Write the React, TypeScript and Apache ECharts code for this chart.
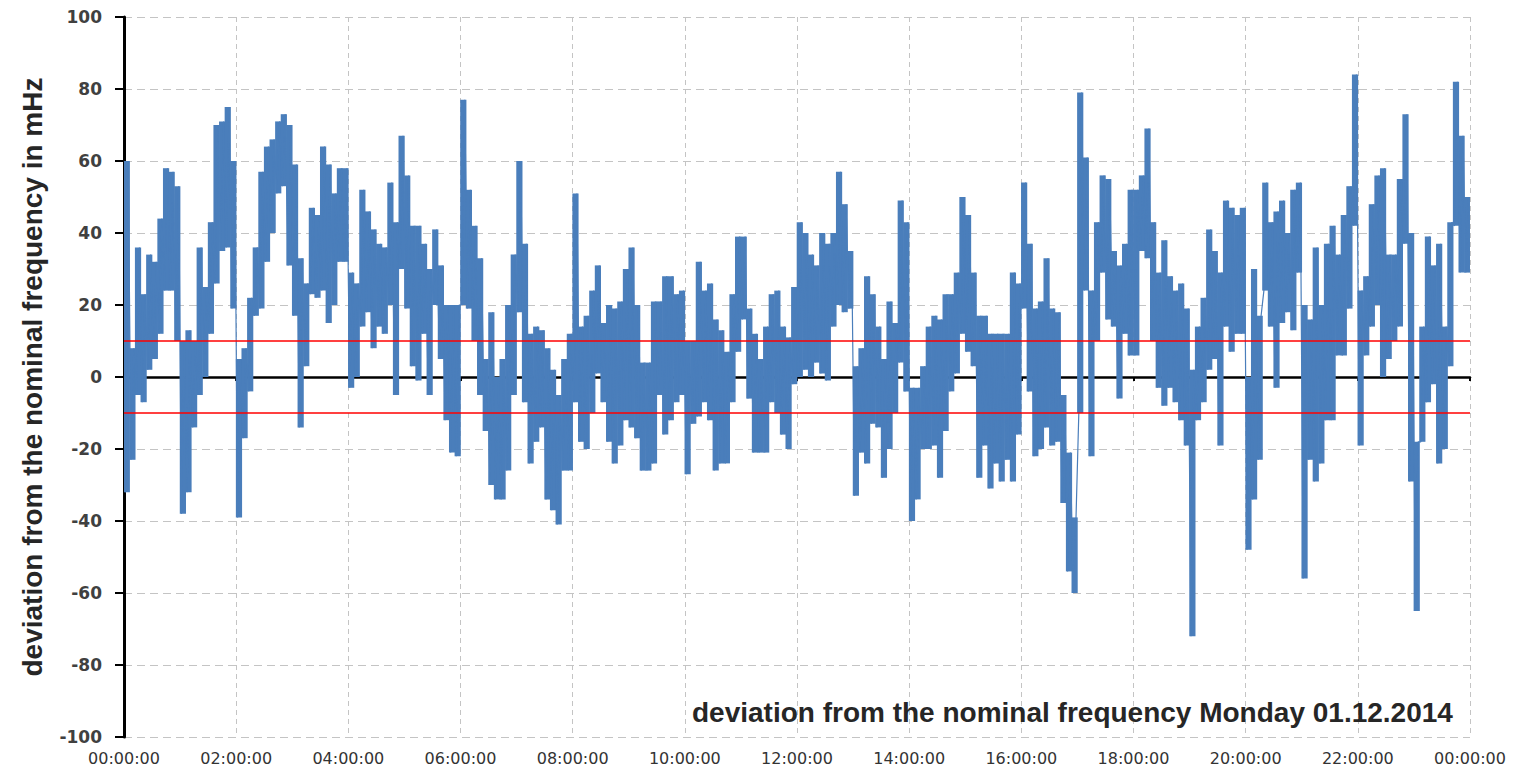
import React, { useEffect, useRef } from "react";
import * as echarts from "echarts";

// Frequency deviation (mHz), read per 6-minute bin: upper and lower envelope
const BIN_HOURS = 0.1;
const hiVals: number[] = [
  // 00h
  60, 8, 36, 23, 34, 32, 44, 58, 57, 53,
  // 01h
  10, 13, 10, 36, 25, 43, 70, 71, 75, 60,
  // 02h
  5, 8, 22, 36, 57, 64, 66, 71, 73, 70,
  // 03h
  59, 33, 26, 47, 45, 64, 59, 51, 58, 58,
  // 04h
  29, 26, 52, 46, 41, 37, 36, 54, 43, 67,
  // 05h
  56, 42, 42, 37, 30, 41, 31, 20, 20, 20,
  // 06h
  77, 52, 42, 33, 5, 18, 0, 5, 20, 34,
  // 07h
  60, 37, 12, 14, 13, 8, 2, -5, 5, 12,
  // 08h
  51, 14, 17, 24, 31, 15, 20, 19, 21, 30,
  // 09h
  36, 20, 4, 4, 21, 21, 28, 28, 23, 24,
  // 10h
  10, 10, 32, 24, 26, 16, 13, 7, 23, 39,
  // 11h
  39, 19, 12, 5, 14, 23, 24, 14, 11, 25,
  // 12h
  43, 40, 34, 31, 40, 37, 40, 57, 48, 35,
  // 13h
  3, 8, 28, 23, 14, 5, 21, 15, 49, 43,
  // 14h
  -3, -3, 3, 14, 17, 16, 23, 23, 29, 50,
  // 15h
  45, 29, 17, 17, 12, 12, 12, 12, 29, 26,
  // 16h
  54, 37, 19, 21, 33, 19, 18, -5, -21, -39,
  // 17h
  79, 61, 24, 43, 56, 55, 35, 31, 37, 52,
  // 18h
  52, 56, 69, 43, 29, 38, 28, 24, 26, 19,
  // 19h
  2, 14, 22, 41, 35, 29, 49, 47, 45, 47,
  // 20h
  0, 30, 17, 54, 43, 46, 49, 40, 52, 54,
  // 21h
  20, 16, 36, 20, 37, 42, 34, 45, 53, 84,
  // 22h
  24, 28, 48, 56, 58, 34, 34, 55, 73, 40,
  // 23h
  -18, 14, 39, 31, 37, 14, 43, 82, 67, 50,
];
const loVals: number[] = [
  // 00h
  -32, -23, -5, -7, 2, 5, 12, 24, 24, 10,
  // 01h
  -38, -32, -14, -5, 0, 12, 26, 35, 36, 19,
  // 02h
  -39, -17, -4, 17, 19, 32, 40, 51, 53, 31,
  // 03h
  17, -14, 3, 23, 22, 24, 15, 20, 32, 32,
  // 04h
  -3, 0, 14, 18, 8, 14, 12, 20, -5, 30,
  // 05h
  19, 3, -1, 12, -5, 20, 5, -12, -21, -22,
  // 06h
  20, 19, 10, -5, -15, -30, -34, -34, -26, -5,
  // 07h
  18, -7, -24, -18, -14, -34, -37, -41, -26, -26,
  // 08h
  -7, -18, -20, -10, 1, -7, -18, -24, -19, -12,
  // 09h
  -14, -17, -26, -26, -24, -5, -16, -12, -7, -5,
  // 10h
  -27, -13, -11, -7, -12, -26, -24, -24, -7, 7,
  // 11h
  16, -6, -21, -21, -21, -7, -10, -16, -20, -2,
  // 12h
  0, 2, 0, 4, 1, -1, 14, 20, 18, 19,
  // 13h
  -33, -21, -24, -13, -14, -28, -20, -10, 4, -4,
  // 14h
  -40, -34, -20, -20, -19, -28, -15, -4, 1, 12,
  // 15h
  7, 3, -28, -19, -31, -24, -29, -23, -29, -16,
  // 16h
  19, -4, -22, -20, -14, -19, -18, -35, -54, -60,
  // 17h
  -10, 24, -22, 10, 29, 16, 14, -6, 12, 6,
  // 18h
  6, 35, 33, 10, -3, -8, -3, -7, -12, -19,
  // 19h
  -72, -12, -7, 2, 5, -19, 14, 7, 12, 12,
  // 20h
  -48, -34, -23, 24, 14, -3, 15, 18, 13, 29,
  // 21h
  -56, -23, -29, -24, -12, -12, 6, 6, 19, 42,
  // 22h
  -19, 6, 14, 20, 0, 5, 10, 14, 37, -29,
  // 23h
  -65, -18, -7, -2, -24, -20, 3, 42, 29, 29,
];

const xTickHours = [0, 2, 4, 6, 8, 10, 12, 14, 16, 18, 20, 22, 24];
const yTicks = [-100, -80, -60, -40, -20, 0, 20, 40, 60, 80, 100];
const toleranceBand = [10, -10];

const yTitle = "deviation from the nominal frequency in mHz";
const chartTitle = "deviation from the nominal frequency Monday 01.12.2014";

const BLUE = "#4a7ebb";

function fmtHour(v: number) {
  const h = ((v % 24) + 24) % 24;
  return `${String(h).padStart(2, "0")}:00:00`;
}

export default function App() {
  const ref = useRef<HTMLDivElement>(null);
  useEffect(() => {
    if (!ref.current) return;
    const chart = echarts.init(ref.current, undefined, { renderer: "svg" });
    const bins: [number, number, number][] = [];
    const zig: [number, number][] = [];
    for (let i = 0; i < hiVals.length; i++) {
      const t = i * BIN_HOURS;
      bins.push([t + BIN_HOURS / 2, loVals[i], hiVals[i]]);
      zig.push([t + BIN_HOURS * 0.25, loVals[i]]);
      zig.push([t + BIN_HOURS * 0.75, hiVals[i]]);
    }
    const xMin = xTickHours[0];
    const xMax = xTickHours[xTickHours.length - 1];
    const xInt = xTickHours[1] - xTickHours[0];
    const yMin = yTicks[0];
    const yMax = yTicks[yTicks.length - 1];
    const yInt = yTicks[1] - yTicks[0];
    chart.setOption({
      animation: false,
      backgroundColor: "#ffffff",
      title: {
        text: chartTitle,
        left: 692,
        top: 698,
        padding: 0,
        textStyle: {
          fontFamily: "Liberation Sans",
          fontWeight: "bold",
          fontSize: 28,
          color: "#262626",
        },
      },
      grid: { left: 124, right: 43, top: 17, bottom: 32, containLabel: false },
      xAxis: [
        {
          type: "value",
          min: xMin,
          max: xMax,
          interval: xInt,
          position: "bottom",
          axisLine: { show: false, onZero: false },
          axisTick: { show: false },
          axisLabel: {
            formatter: fmtHour,
            color: "#333333",
            fontFamily: "DejaVu Sans",
            fontSize: 16,
            margin: 13,
          },
          splitLine: {
            show: true,
            lineStyle: { type: [5, 4], color: "#c4c4c4", width: 1 },
          },
        },
        {
          type: "value",
          min: xMin,
          max: xMax,
          interval: xInt,
          position: "bottom",
          axisLine: {
            show: true,
            onZero: true,
            lineStyle: { color: "#000000", width: 2.5 },
          },
          axisTick: {
            show: true,
            inside: false,
            length: 4,
            lineStyle: { color: "#000000", width: 2 },
          },
          axisLabel: { show: false },
          splitLine: { show: false },
        },
      ],
      yAxis: {
        type: "value",
        min: yMin,
        max: yMax,
        interval: yInt,
        name: yTitle,
        nameLocation: "middle",
        nameGap: 78,
        nameTextStyle: {
          fontFamily: "Liberation Sans",
          fontWeight: "bold",
          fontSize: 28,
          color: "#262626",
        },
        axisLine: {
          show: true,
          onZero: false,
          lineStyle: { color: "#000000", width: 3 },
        },
        axisTick: {
          show: true,
          length: 9,
          lineStyle: { color: "#000000", width: 2 },
        },
        axisLabel: {
          color: "#404040",
          fontFamily: "DejaVu Sans",
          fontWeight: "bold",
          fontSize: 17,
          margin: 22,
        },
        splitLine: {
          show: true,
          lineStyle: { type: [8, 5], color: "#c4c4c4", width: 1 },
        },
      },
      series: [
        {
          type: "custom",
          xAxisIndex: 0,
          clip: true,
          z: 3,
          data: bins,
          encode: { x: 0, y: [1, 2] },
          renderItem: (params: any, api: any) => {
            const t = api.value(0);
            const lo = api.value(1);
            const hi = api.value(2);
            const a = api.coord([t - BIN_HOURS / 2, hi]);
            const b = api.coord([t + BIN_HOURS / 2, lo]);
            return {
              type: "rect",
              shape: { x: a[0] - 0.3, y: a[1], width: b[0] - a[0] + 0.6, height: b[1] - a[1] },
              style: { fill: BLUE },
            };
          },
        },
        {
          type: "line",
          xAxisIndex: 0,
          data: zig,
          showSymbol: false,
          symbol: "none",
          lineStyle: { color: BLUE, width: 1.2 },
          z: 3,
          markLine: {
            silent: true,
            symbol: "none",
            label: { show: false },
            lineStyle: { color: "#ff0000", width: 1.5, type: "solid" },
            data: toleranceBand.map((v) => ({ yAxis: v })),
          },
        },
      ],
    });
    return () => chart.dispose();
  }, []);
  return (
    <div
      ref={ref}
      style={{ position: "fixed", left: 0, top: 0, width: 1513, height: 769 }}
    />
  );
}
